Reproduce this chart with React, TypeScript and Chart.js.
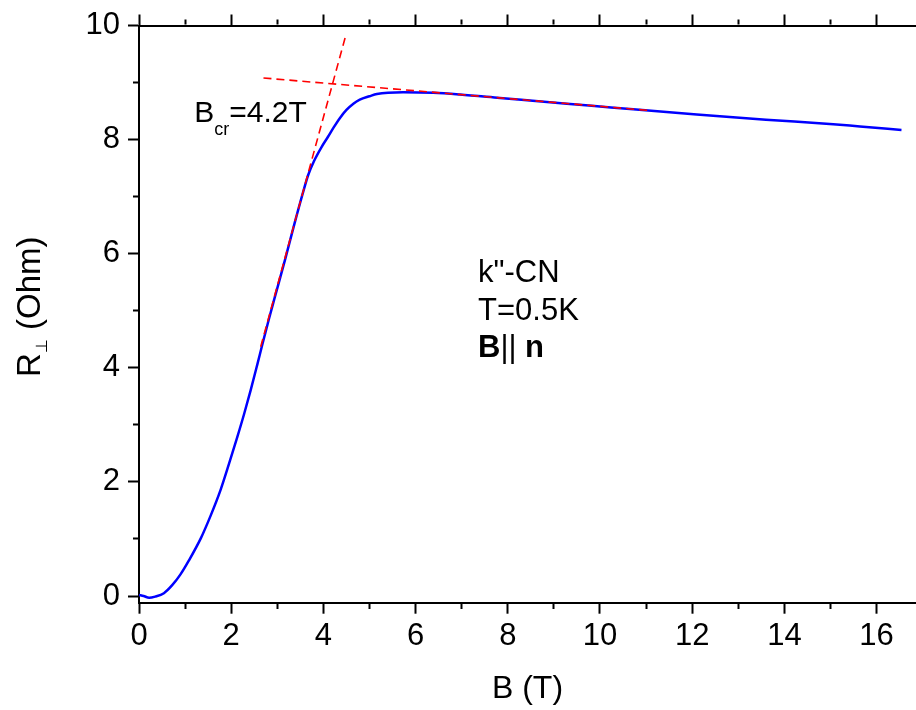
import { useEffect, useRef } from 'react';
import { Chart, registerables } from 'chart.js';

Chart.register(...registerables);

// ---- data ----
const fieldB = [
  0, 0.1, 0.22, 0.35, 0.54, 0.72, 0.9, 1.08, 1.34, 1.55, 1.77, 1.95, 2.13, 2.28, 2.42, 2.57, 2.67,
  2.82, 2.93, 3.17, 3.38, 3.56, 3.67, 3.8, 3.96, 4.1, 4.22, 4.36, 4.5, 4.65, 4.79, 5.0, 5.16, 5.73,
  6.38, 6.96, 7.83, 9.28, 10.0, 10.72, 12.1, 13.6, 15.06, 15.64, 16.54,
];
const resistance = [
  0.02, 0.0, -0.03, -0.01, 0.05, 0.19, 0.38, 0.62, 1.01, 1.4, 1.86, 2.31, 2.78, 3.19, 3.6, 4.07, 4.39,
  4.86, 5.19, 5.9, 6.55, 7.08, 7.38, 7.63, 7.87, 8.05, 8.21, 8.38, 8.52, 8.63, 8.7, 8.76, 8.8, 8.83,
  8.82, 8.79, 8.73, 8.63, 8.58, 8.53, 8.44, 8.35, 8.27, 8.23, 8.17,
];
const steepFitB = [2.64, 4.47];
const steepFitR = [4.37, 9.78];
const flatFitB = [2.7, 11.08];
const flatFitR = [9.08, 8.51];

const xMajorTicks = [0, 2, 4, 6, 8, 10, 12, 14, 16];
const yMajorTicks = [0, 2, 4, 6, 8, 10];

const X_MIN = 0;
const X_MAX = 16.855;
const Y_MIN = -0.117;
const Y_MAX = 10;

const FONT = "'Liberation Sans', Arial, Helvetica, sans-serif";

const toPoints = (xs: number[], ys: number[]) => xs.map((x, i) => ({ x, y: ys[i] }));

const textPlugin = {
  id: 'annotationTexts',
  afterDraw(chart: any) {
    const { ctx, scales } = chart;
    const x = scales.x;
    const y = scales.y;
    ctx.save();
    ctx.fillStyle = '#000';
    ctx.textBaseline = 'alphabetic';
    ctx.textAlign = 'left';

    // B_cr = 4.2T
    let px = x.getPixelForValue(1.199);
    const py = y.getPixelForValue(8.314);
    ctx.font = `30px ${FONT}`;
    ctx.fillText('B', px, py);
    px += ctx.measureText('B').width;
    ctx.font = `18px ${FONT}`;
    ctx.fillText('cr', px, py + 13);
    px += ctx.measureText('cr').width;
    ctx.font = `30px ${FONT}`;
    ctx.fillText('=4.2T', px, py);

    // sample info block
    const bx = x.getPixelForValue(7.354);
    const by = y.getPixelForValue(5.504);
    ctx.font = `31px ${FONT}`;
    ctx.fillText('k"-CN', bx, by);
    ctx.fillText('T=0.5K', bx, by + 38);
    let qx = bx;
    ctx.font = `bold 31px ${FONT}`;
    ctx.fillText('B', qx, by + 75);
    qx += ctx.measureText('B').width;
    ctx.font = `31px ${FONT}`;
    ctx.fillText('|| ', qx, by + 75);
    qx += ctx.measureText('|| ').width;
    ctx.font = `bold 31px ${FONT}`;
    ctx.fillText('n', qx, by + 75);

    // y axis title: R⊥ (Ohm), rotated
    ctx.translate(40, 377);
    ctx.rotate(-Math.PI / 2);
    let tx = 0;
    ctx.font = `33px ${FONT}`;
    ctx.fillText('R', tx, 0);
    tx += ctx.measureText('R').width;
    ctx.font = `16px ${FONT}`;
    ctx.fillText('\u22A5', tx, 7);
    tx += ctx.measureText('\u22A5').width;
    ctx.font = `33px ${FONT}`;
    ctx.fillText(' (Ohm)', tx, 0);
    ctx.restore();
  },
};

const majorTickGrid = (majors: number[], minorDash: number[]) => ({
  display: true,
  drawOnChartArea: false,
  drawTicks: true,
  tickLength: 11,
  tickWidth: 2,
  tickColor: '#000',
  tickBorderDash: (c: any) =>
    c.tick && majors.some((m) => Math.abs(m - c.tick.value) < 1e-6) ? [] : minorDash,
  tickBorderDashOffset: 0,
});

export default function App() {
  const canvasRef = useRef<HTMLCanvasElement | null>(null);

  useEffect(() => {
    if (!canvasRef.current) return;
    const chart = new Chart(canvasRef.current, {
      type: 'line',
      data: {
        datasets: [
          {
            data: toPoints(steepFitB, steepFitR),
            borderColor: '#ff0000',
            borderWidth: 1.6,
            borderDash: [8, 5],
            pointRadius: 0,
            fill: false,
            tension: 0,
          },
          {
            data: toPoints(flatFitB, flatFitR),
            borderColor: '#ff0000',
            borderWidth: 1.6,
            borderDash: [8, 5],
            pointRadius: 0,
            fill: false,
            tension: 0,
          },
          {
            data: toPoints(fieldB, resistance),
            borderColor: '#0000ff',
            borderWidth: 2.5,
            pointRadius: 0,
            fill: false,
            cubicInterpolationMode: 'monotone',
          },
        ],
      },
      options: {
        animation: false,
        responsive: false,
        devicePixelRatio: 1,
        layout: { padding: 0 },
        plugins: { legend: { display: false }, tooltip: { enabled: false } },
        scales: {
          x: {
            type: 'linear',
            position: 'bottom',
            min: X_MIN,
            max: X_MAX,
            afterFit: (s: any) => {
              s.height = 107.3;
            },
            border: { display: true, color: '#000', width: 2 },
            grid: majorTickGrid(xMajorTicks, [5, 40]),
            ticks: {
              stepSize: 1,
              includeBounds: false,
              autoSkip: false,
              maxRotation: 0,
              padding: 4,
              color: '#000',
              font: { family: FONT, size: 31, lineHeight: 1.2 },
              callback: (v: any) => (xMajorTicks.includes(Number(v)) ? String(v) : ''),
            },
            title: {
              display: true,
              text: 'B (T)',
              color: '#000',
              font: { family: FONT, size: 32, lineHeight: 1.2 },
              padding: { top: 0, bottom: 2 },
            },
          },
          x2: {
            type: 'linear',
            axis: 'x',
            position: 'top',
            min: X_MIN,
            max: X_MAX,
            afterFit: (s: any) => {
              s.height = 25.5;
            },
            border: { display: true, color: '#000', width: 2 },
            grid: majorTickGrid(xMajorTicks, [0, 5, 5, 40]),
            ticks: { display: false, stepSize: 1, includeBounds: false, autoSkip: false },
          },
          y: {
            type: 'linear',
            position: 'left',
            min: Y_MIN,
            max: Y_MAX,
            afterFit: (s: any) => {
              s.width = 139;
            },
            border: { display: true, color: '#000', width: 2 },
            grid: majorTickGrid(yMajorTicks, [0, 5, 5, 40]),
            ticks: {
              stepSize: 1,
              includeBounds: false,
              autoSkip: false,
              padding: 8,
              color: '#000',
              font: { family: FONT, size: 31, lineHeight: 1 },
              callback: (v: any) => (yMajorTicks.includes(Number(v)) ? String(v) : ''),
            },
          },
        },
      },
      plugins: [textPlugin],
    } as any);
    return () => chart.destroy();
  }, []);

  return (
    <div style={{ position: 'absolute', left: 0, top: 0, width: 916, height: 710, background: '#fff' }}>
      <canvas ref={canvasRef} width={916} height={710} style={{ display: 'block' }} />
    </div>
  );
}
